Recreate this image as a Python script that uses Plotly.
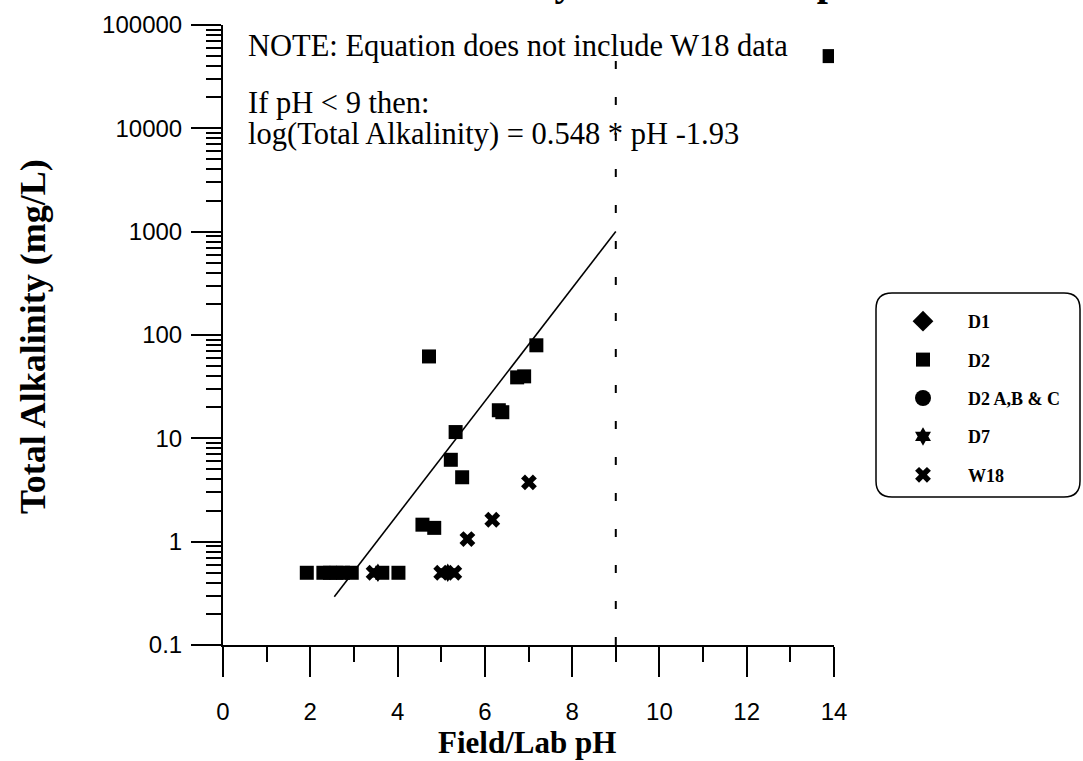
import plotly.graph_objects as go

# ---------------- data ----------------
d2_ph = [13.9, 1.92, 2.30, 2.45, 2.60, 2.75, 2.95, 3.65, 4.02, 4.57, 4.84, 4.72,
         5.22, 5.33, 5.48, 6.32, 6.40, 6.74, 6.90, 7.18]
d2_ta = [50000, 0.5, 0.5, 0.5, 0.5, 0.5, 0.5, 0.5, 0.5, 1.46, 1.36, 62,
         6.2, 11.5, 4.2, 18.7, 17.9, 38.9, 39.8, 79.5]
d1_ph, d1_ta = [None], [None]
d2abc_ph, d2abc_ta = [None], [None]
d7_ph = [3.55, 5.15]
d7_ta = [0.5, 0.5]
w18_ph = [3.45, 5.00, 5.30, 5.60, 6.17, 7.01]
w18_ta = [0.5, 0.5, 0.5, 1.06, 1.63, 3.75]

fit_slope, fit_intercept = 0.548, -1.93
fit_ph = [2.55, 9.0]
fit_ta = [10 ** (fit_slope * p + fit_intercept) for p in fit_ph]
limit_ph = [9, 9]
limit_ta = [0.1, 70000]

x_ticks = [0, 2, 4, 6, 8, 10, 12, 14]
x_ticktext = ["0", "2", "4", "6", "8", "10", "12", "14"]
y_ticks = [0.1, 1, 10, 100, 1000, 10000, 100000]
y_ticktext = ["0.1", "1", "10", "100", "1000", "10000", "100000"]

# ---------------- layout geometry ----------------
W, H = 1083, 761
L, R, T, B = 223, 834, 25, 645


def px(x):
    return (x - L) / (R - L)


def py(y):
    return (B - y) / (B - T)


y_minor = [d * m for d in y_ticks[:-1] for m in range(2, 10)]

fig = go.Figure()
mk = dict(color="black")
fig.add_trace(go.Scatter(x=d1_ph, y=d1_ta, mode="markers", name="D1",
                         marker=dict(symbol="diamond", size=16, **mk), legendgroup="a"))
fig.add_trace(go.Scatter(x=d2_ph, y=d2_ta, mode="markers", name="D2",
                         marker=dict(symbol="square", size=14, **mk), legendgroup="b"))
fig.add_trace(go.Scatter(x=d2abc_ph, y=d2abc_ta, mode="markers", name="D2 A,B & C",
                         marker=dict(symbol="circle", size=16, **mk), legendgroup="c"))
fig.add_trace(go.Scatter(x=d7_ph, y=d7_ta, mode="markers", name="D7",
                         marker=dict(symbol="hexagram", size=14, **mk), legendgroup="d"))
fig.add_trace(go.Scatter(x=w18_ph, y=w18_ta, mode="markers", name="W18",
                         marker=dict(symbol="x", size=14, **mk), legendgroup="e"))
fig.add_trace(go.Scatter(x=fit_ph, y=fit_ta, mode="lines", showlegend=False,
                         line=dict(color="black", width=1.6)))
fig.add_trace(go.Scatter(x=limit_ph, y=limit_ta, mode="lines", showlegend=False,
                         line=dict(color="black", width=2, dash="8px,28px")))

serif = "Liberation Serif"
sans = "Liberation Sans"

annotations = [
    dict(text="Total Alkalinity vs. Field/Lab pH", x=px(872), y=py(6), xref="paper", yref="paper",
         xanchor="right", yanchor="bottom", showarrow=False,
         font=dict(family=serif, size=40, color="black", weight="bold")),
    dict(text="NOTE: Equation does not include W18 data", x=px(246), y=py(46), xref="paper", yref="paper",
         xanchor="left", yanchor="middle", showarrow=False,
         font=dict(family=serif, size=30.5, color="black")),
    dict(text="If pH < 9 then:", x=px(246), y=py(103), xref="paper", yref="paper",
         xanchor="left", yanchor="middle", showarrow=False,
         font=dict(family=serif, size=30.5, color="black")),
    dict(text="log(Total Alkalinity) = 0.548 * pH -1.93", x=px(246), y=py(134), xref="paper", yref="paper",
         xanchor="left", yanchor="middle", showarrow=False,
         font=dict(family=serif, size=30.5, color="black")),
    dict(text="Total Alkalinity (mg/L)", x=px(33), y=py(337), xref="paper", yref="paper",
         xanchor="center", yanchor="middle", textangle=-90, showarrow=False,
         font=dict(family=serif, size=36, color="black", weight="bold")),
    dict(text="Field/Lab pH", x=px(527), y=py(743), xref="paper", yref="paper",
         xanchor="center", yanchor="middle", showarrow=False,
         font=dict(family=serif, size=31, color="black", weight="bold")),
]

# rounded legend box
bx0, bx1, by0, by1, rr = 876, 1080, 293, 497, 16


def pt(x, y):
    return f"{px(x)},{py(y)}"


path = (f"M {pt(bx0 + rr, by0)} L {pt(bx1 - rr, by0)} Q {pt(bx1, by0)} {pt(bx1, by0 + rr)} "
        f"L {pt(bx1, by1 - rr)} Q {pt(bx1, by1)} {pt(bx1 - rr, by1)} "
        f"L {pt(bx0 + rr, by1)} Q {pt(bx0, by1)} {pt(bx0, by1 - rr)} "
        f"L {pt(bx0, by0 + rr)} Q {pt(bx0, by0)} {pt(bx0 + rr, by0)} Z")

fig.update_layout(
    width=W, height=H,
    margin=dict(l=L, r=W - R, t=T, b=H - B, pad=0),
    paper_bgcolor="white", plot_bgcolor="white",
    showlegend=True,
    legend=dict(x=px(878), y=py(303), xanchor="left", yanchor="top",
                bgcolor="rgba(0,0,0,0)", borderwidth=0,
                font=dict(family=serif, size=18, color="black", weight="bold"),
                itemwidth=80, tracegroupgap=12, traceorder="grouped"),
    annotations=annotations,
    shapes=[dict(type="path", path=path, xref="paper", yref="paper",
                 line=dict(color="black", width=1.5), layer="above")],
    xaxis=dict(range=[0, 14], tickvals=x_ticks, ticktext=x_ticktext,
               ticks="outside", ticklen=30, tickwidth=2, tickcolor="black",
               showline=True, linecolor="black", linewidth=2,
               showgrid=False, zeroline=False, ticklabelstandoff=14,
               tickfont=dict(family=sans, size=24, color="black"),
               minor=dict(tickvals=[1, 3, 5, 7, 9, 11, 13], ticks="outside", ticklen=15,
                          tickwidth=2, tickcolor="black", showgrid=False)),
    yaxis=dict(type="log", range=[-1, 5], tickvals=y_ticks, ticktext=y_ticktext,
               ticks="outside", ticklen=30, tickwidth=2, tickcolor="black",
               showline=True, linecolor="black", linewidth=2,
               showgrid=False, zeroline=False, ticklabelstandoff=4,
               tickfont=dict(family=sans, size=24, color="black"),
               minor=dict(tickvals=y_minor, ticks="outside", ticklen=15,
                          tickwidth=1.5, tickcolor="black", showgrid=False)),
)

fig.write_html("out.html")
